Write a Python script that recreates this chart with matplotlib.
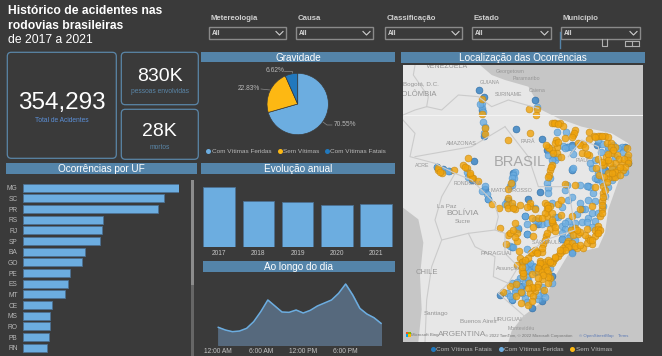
#!/usr/bin/env python3
# -*- coding: utf-8 -*-

import matplotlib
matplotlib.use('Agg')
import matplotlib.pyplot as plt
from matplotlib.patches import FancyBboxPatch, Polygon, Rectangle

plt.rcParams['font.family'] = ['Liberation Sans', 'DejaVu Sans']

W, H = 662, 356
BG = '#3a3a3a'
HEADER = '#5484a9'
BLUE = '#6cade0'
BAR_EDGE = '#4c7091'
ORANGE = '#fdb813'
DARK_BLUE = '#2178bd'
CARD_EDGE = '#5a86a8'

# data
ufs = ['MG', 'SC', 'PR', 'RS', 'RJ', 'SP', 'BA', 'GO', 'PE', 'ES', 'MT', 'CE', 'MS', 'RO', 'PB', 'RN']
uf_values = [46.7, 42.2, 40.4, 23.9, 23.7, 23.0, 18.4, 17.5, 13.9, 13.4, 12.5, 8.5, 8.0, 7.9, 7.8, 7.0]

years = ['2017', '2018', '2019', '2020', '2021']
year_values = [89.7, 69.2, 67.1, 63.6, 64.6]

hours = list(range(24))
hour_values = [53, 45, 40, 42, 50, 70, 100, 135, 117, 99, 98, 105, 96, 104, 117, 126, 135, 155, 183, 150,
               110, 93, 82, 65]
hour_ticks = [0, 6, 12, 18]
hour_labels = ['12:00 AM', '6:00 AM', '12:00 PM', '6:00 PM']

severity_values = [70.55, 22.83, 6.62]
severity_names = ['Com Vítimas Feridas', 'Sem Vítimas', 'Com Vítimas Fatais']

slicers = ['Metereologia', 'Causa', 'Classificação', 'Estado', 'Município']

# map points, in units of a third of a pixel
fatal_pts = [(252, 270), (268, 292), (262, 330), (268, 408), (420, 300), (362, 388), (442, 417), (455, 450),
             (515, 440), (530, 435), (605, 435), (630, 510), (700, 490), (237, 482), (125, 500), (143, 507),
             (162, 513), (355, 520), (530, 510), (690, 440), (650, 530), (435, 575), (270, 566), (232, 540),
             (280, 598), (400, 596), (340, 600), (390, 648), (370, 686), (395, 703), (350, 740), (500, 718),
             (382, 786), (405, 798), (380, 858), (350, 900), (440, 903), (410, 923), (315, 886), (470, 828),
             (580, 558), (560, 628), (430, 673), (530, 756), (605, 538)]
injured_pts = [(262, 325), (265, 335), (262, 310), (255, 312), (265, 365), (270, 380), (268, 400), (487, 397),
               (512, 395), (425, 320), (535, 462), (530, 508), (533, 505), (620, 433), (610, 420), (640, 450),
               (618, 455), (680, 440), (660, 470), (590, 505), (610, 520), (655, 500), (665, 525), (520, 440),
               (505, 438), (475, 470), (480, 480), (360, 515), (355, 525), (358, 535), (465, 535), (125, 500),
               (145, 510), (160, 512), (215, 515), (220, 530), (350, 533), (345, 558), (335, 603), (330, 613),
               (350, 618), (275, 583), (280, 598), (260, 573), (270, 558), (457, 548), (458, 563), (458, 578),
               (510, 570), (555, 556), (585, 560), (610, 538), (600, 603), (570, 626), (545, 643), (520, 663),
               (500, 678), (510, 688), (440, 673), (395, 671), (395, 703), (370, 683), (345, 738), (355, 740),
               (397, 748), (400, 793), (415, 798), (395, 813), (375, 833), (360, 868), (350, 898), (390, 893),
               (430, 898), (445, 878), (470, 848), (465, 803), (525, 708), (500, 718), (540, 668), (600, 663),
               (580, 653), (625, 618), (630, 588), (530, 758), (430, 663), (390, 648), (420, 623),
               (350, 850), (365, 845), (375, 860), (390, 850), (400, 840), (395, 830), (420, 815), (380, 880),
               (395, 905), (430, 885), (440, 860), (450, 890), (335, 880), (345, 888), (360, 880), (405, 790),
               (400, 810), (390, 800), (420, 800), (445, 795), (490, 650), (510, 670), (530, 680), (560, 665),
               (590, 680), (575, 665), (500, 700), (520, 715), (540, 720), (480, 650), (455, 670), (420, 660),
               (470, 610), (500, 620), (520, 600), (530, 590), (555, 610), (580, 600), (595, 580), (590, 640),
               (610, 640), (515, 555), (575, 558), (620, 545), (640, 560), (650, 540), (600, 535), (655, 435),
               (670, 445), (685, 455), (695, 470), (690, 515), (640, 440), (650, 515), (620, 510), (600, 480),
               (585, 490), (530, 440), (510, 445), (490, 470), (470, 480), (460, 465), (350, 545), (352, 555)]
no_victim_pts = [(262, 342), (260, 296), (270, 385), (270, 403), (403, 328), (425, 328), (423, 344), (340, 420),
                 (406, 399), (470, 368), (480, 368), (495, 368), (505, 378), (540, 390), (535, 405), (583, 395),
                 (598, 408), (615, 408), (630, 408), (640, 412), (510, 415), (483, 420), (485, 440), (458, 440),
                 (470, 450), (487, 458), (498, 472), (565, 432), (550, 428), (582, 418), (560, 460), (582, 464),
                 (608, 478), (603, 505), (635, 430), (648, 430), (660, 440), (695, 445), (650, 460), (665, 465),
                 (700, 465), (632, 470), (630, 490), (650, 505), (680, 490), (700, 480), (670, 510), (685, 510),
                 (655, 530), (625, 495), (470, 495), (465, 510), (462, 525), (220, 475), (205, 495), (215, 505),
                 (225, 525), (235, 535), (130, 510), (140, 520), (178, 510),
                 (348, 548), (340, 568), (338, 593), (336, 616), (360, 626), (313, 624), (290, 613), (250, 543),
                 (232, 533), (375, 616), (405, 618), (420, 628), (450, 608), (455, 628), (465, 618), (490, 613),
                 (498, 600), (510, 553), (540, 556), (600, 560), (625, 558), (640, 533), (660, 531), (625, 578),
                 (622, 603), (620, 628), (615, 648), (610, 678), (605, 698), (590, 618), (555, 628), (530, 648),
                 (497, 646), (455, 648), (430, 655), (410, 655), (475, 673), (465, 688), (480, 693), (415, 680),
                 (360, 668), (315, 683), (340, 706), (365, 700), (365, 723), (332, 731), (413, 708), (453, 708),
                 (445, 733), (440, 756), (425, 756), (408, 758), (398, 773), (372, 753), (375, 773), (382, 786),
                 (365, 796), (540, 683), (575, 688), (528, 691), (550, 703), (580, 713), (600, 708), (520, 723),
                 (510, 738), (500, 753), (525, 738), (545, 743), (565, 743), (590, 733), (490, 768), (475, 783),
                 (455, 793), (435, 783), (432, 798), (445, 803), (470, 790), (380, 813), (385, 828), (410, 823),
                 (430, 813), (460, 818), (465, 833), (460, 850), (440, 838), (428, 853), (402, 848), (362, 851),
                 (345, 858), (378, 876), (420, 873), (405, 878), (415, 888), (447, 870), (363, 888), (325, 876),
                 (378, 908), (400, 916), (410, 903),
                 (610, 408), (622, 408), (600, 412), (648, 440), (655, 450), (640, 462), (672, 478), (688, 478),
                 (698, 490), (690, 500), (660, 490), (645, 490), (638, 480), (620, 485), (675, 500), (660, 515),
                 (640, 520), (675, 525), (650, 520), (628, 530), (612, 525), (480, 430), (490, 425), (462, 445),
                 (452, 435), (475, 460), (478, 370), (488, 372), (538, 398), (530, 412), (555, 435), (570, 440),
                 (575, 462), (458, 530), (468, 500), (225, 520), (210, 500), (128, 505), (135, 515),
                 (440, 793), (450, 785), (460, 780), (480, 775), (495, 760), (505, 745), (515, 730), (530, 730),
                 (540, 738), (555, 735), (575, 730), (585, 720), (570, 705), (555, 695), (545, 690), (535, 705),
                 (520, 740), (510, 750), (495, 750), (480, 770), (465, 785), (450, 800), (435, 790), (430, 805),
                 (440, 815), (455, 810), (460, 830), (445, 825), (430, 835), (415, 865), (425, 860), (410, 860),
                 (400, 865), (385, 820), (380, 800), (390, 780), (410, 755), (420, 750), (440, 745), (450, 720),
                 (455, 700), (425, 758), (450, 640), (455, 615), (460, 625), (470, 640), (440, 655), (470, 665),
                 (480, 680), (470, 660), (600, 690), (610, 688), (615, 690), (622, 640), (620, 615), (625, 590),
                 (630, 570), (635, 545), (610, 700), (590, 720), (405, 610), (395, 620), (340, 625), (350, 610),
                 (355, 625), (345, 700), (360, 710), (355, 690)]

map_labels = [('VENEZUELA', 155, 200, 5), ('Bogotá, D.C.', 78, 253, 4.5), ('COLÔMBIA', 65, 285, 5.5),
              ('GUIANA', 285, 246, 3.8), ('SURINAME', 342, 285, 3.8), ('Georgetown', 345, 216, 3.8),
              ('Paramaribo', 393, 234, 3.8), ('Caiena', 426, 273, 3.8), ('AMAZONAS', 198, 431, 4),
              ('PARÁ', 398, 425, 4), ('ACRE', 82, 497, 3.8), ('PIAUÍ', 563, 480, 3.8),
              ('RONDÔNIA', 218, 551, 3.8), ('MATO GROSSO', 350, 572, 4), ('BOLÍVIA', 204, 640, 6),
              ('La Paz', 155, 618, 4.5), ('Sucre', 203, 663, 4.5), ('PARAGUAI', 303, 761, 4.5),
              ('Assunção', 340, 806, 4), ('CHILE', 95, 818, 5.5), ('Santiago', 123, 939, 4.5),
              ('Buenos Aires', 250, 963, 4.5), ('URUGUAI', 340, 959, 4.5), ('Montevidéu', 378, 986, 3.8),
              ('ARGENTINA', 203, 1003, 6)]
borders = [[(24, 345), (60, 330), (95, 320), (100, 290), (55, 225), (60, 195)],
           [(95, 320), (140, 330), (190, 285), (250, 290), (290, 320), (340, 300), (430, 325)],
           [(24, 360), (60, 400), (45, 470), (120, 490), (180, 520), (230, 540), (300, 610), (310, 650),
            (300, 690), (330, 700), (330, 760), (370, 800), (340, 850), (310, 880), (390, 950)],
           [(180, 520), (140, 590), (120, 660), (140, 720), (220, 700), (300, 690)],
           [(140, 720), (110, 800), (95, 900), (90, 1026)],
           [(220, 700), (240, 740), (300, 770), (295, 830), (340, 850)],
           [(330, 380), (400, 470), (430, 560), (520, 560), (540, 690), (450, 720), (400, 760)],
           [(520, 470), (560, 420), (610, 440), (620, 520), (640, 600)],
           [(60, 470), (230, 440), (330, 380)]]
sea_north = [(255, 195), (290, 225), (330, 240), (400, 260), (440, 330), (490, 355), (560, 380), (650, 400),
             (700, 430), (712, 480), (700, 510), (672, 538), (640, 628), (630, 698), (610, 743), (520, 763),
             (475, 838), (450, 898), (385, 948), (350, 993), (340, 1026), (744, 1026), (744, 195)]
sea_west = [(24, 623), (70, 658), (85, 728), (75, 828), (80, 928), (70, 1026), (24, 1026)]


def px_axes(fig, left, top, right, bottom):
    ax = fig.add_axes([left / W, 1 - bottom / H, (right - left) / W, (bottom - top) / H])
    ax.set_facecolor('none')
    for s in ax.spines.values():
        s.set_visible(False)
    return ax


def header(ax, x0, x1, y0, y1, label):
    ax.add_patch(Rectangle((x0, y0), x1 - x0, y1 - y0, fc=HEADER, ec='none'))
    ax.text((x0 + x1) / 2, (y0 + y1) / 2 + .3, label, color='white', fontsize=7.2, ha='center', va='center')


def card(ax, x0, y0, x1, y1, value, size, label, vy, ly, lcolor):
    ax.add_patch(FancyBboxPatch((x0 + 4, y0 + 4), x1 - x0 - 8, y1 - y0 - 8, boxstyle='round,pad=4,rounding_size=4',
                                fc='none', ec=CARD_EDGE, lw=.9))
    ax.text((x0 + x1) / 2, vy, value, color='white', fontsize=size, ha='center', va='center')
    ax.text((x0 + x1) / 2, ly, label, color=lcolor, fontsize=4.8, ha='center', va='center')


def legend_row(ax, items, y):
    for x, color, label in items:
        ax.scatter([x], [y], s=13, color=color, linewidths=0)
        ax.text(x + 3.5, y + .2, label, color='#b8b8b8', fontsize=4.6, va='center')


fig = plt.figure(figsize=(W / 100, H / 100), dpi=100, facecolor=BG)
base = px_axes(fig, 0, 0, W, H)
base.set_xlim(0, W)
base.set_ylim(H, 0)
base.axis('off')

# title
for y, line in zip([11.5, 26, 40], ['Histórico de acidentes nas', 'rodovias brasileiras', 'de 2017 a 2021']):
    base.text(8.5, y, line, color='white', fontsize=8.7, weight='bold' if y < 30 else 'normal', va='center')

# slicers
slicer_boxes = [(209, 286), (296, 373), (385, 462), (472, 551), (561, 640)]
for (x0, x1), label in zip(slicer_boxes, slicers):
    base.text(x0 + 1.5, 19, label, color='#cfcfcf', fontsize=5.6, weight='bold', va='center')
    base.add_patch(Rectangle((x0, 27), x1 - x0, 12.3, fc='none', ec='#8a8a8a', lw=1))
    base.text(x0 + 3, 33.3, 'All', color='#d8d8d8', fontsize=4.8, weight='bold', va='center')
    base.plot([x1 - 10, x1 - 6.5, x1 - 3], [31.5, 35, 31.5], color='#d0d0d0', lw=.8)
base.plot([559.7, 559.7], [32, 48], color=HEADER, lw=1)
base.plot([602, 602, 607, 607], [39, 46, 46, 39], color='#b0b0b0', lw=.8)
base.plot([625, 625, 639, 639], [46, 41, 41, 46], color='#b0b0b0', lw=.8)
base.plot([625, 639], [46, 46], color='#b0b0b0', lw=.8)
base.plot([632, 632], [41, 46], color='#b0b0b0', lw=.8)

# cards
card(base, 7.3, 52.3, 116.3, 158.3, '354,293', 17.5, 'Total de Acidentes', 103.5, 121, '#5b8fd6')
card(base, 121.3, 52.3, 198.3, 104.7, '830K', 14, 'pessoas envolvidas', 76.5, 91.5, CARD_EDGE)
card(base, 121.3, 109.3, 198.3, 159.3, '28K', 14, 'mortos', 131.5, 147.5, CARD_EDGE)

# headers
header(base, 201, 395, 52.3, 62.3, 'Gravidade')
header(base, 6, 196.7, 163, 173.5, 'Ocorrências por UF')
header(base, 201, 395, 163, 173.5, 'Evolução anual')
header(base, 203, 395, 261.3, 271.7, 'Ao longo do dia')
header(base, 401, 645, 52, 62.5, 'Localização das Ocorrências')

# pie
ax_pie = px_axes(fig, 266.7, 73, 328.7, 135)
ax_pie.pie(severity_values, colors=[BLUE, ORANGE, DARK_BLUE], startangle=90, counterclock=False, radius=1,
           wedgeprops={'linewidth': .5, 'edgecolor': BG})
ax_pie.set_xlim(-1.01, 1.01)
ax_pie.set_ylim(-1.01, 1.01)
for label, tx, ty, line in [('6.62%', 266, 71, [(284, 71), (292, 71), (292, 76)]),
                            ('22.83%', 238, 89, [(261, 89), (270, 90)]),
                            ('70.55%', 334, 125, [(323, 122), (327, 125), (332, 125)])]:
    base.text(tx, ty, label, color='#b8b8b8', fontsize=4.8, va='center')
    base.plot([p[0] for p in line], [p[1] for p in line], color='#8a8a8a', lw=.5)
legend_row(base, [(208, BLUE, severity_names[0]), (279.5, ORANGE, severity_names[1]), (327, DARK_BLUE, severity_names[2])], 151)

# bars per state
ax_uf = px_axes(fig, 23.3, 182.5, 179, 353)
ax_uf.barh(range(len(ufs)), uf_values, height=.75, color=BLUE, edgecolor=BAR_EDGE, linewidth=.6)
ax_uf.set_xlim(0, 46.7)
ax_uf.set_ylim(15.5, -.5)
ax_uf.xaxis.set_visible(False)
ax_uf.set_yticks(range(len(ufs)), ufs)
ax_uf.tick_params(axis='y', length=0, pad=4, labelsize=4.8, labelcolor='#b8b8b8')
base.add_patch(Rectangle((190.7, 180), 3.6, 176, fc='#666666', ec='none'))
base.add_patch(Rectangle((190.7, 180), 3.6, 105, fc='#8c8c8c', ec='none'))

# bars per year
ax_year = px_axes(fig, 199.5, 187.3, 395.8, 247)
ax_year.bar(years, year_values, width=.805, color=BLUE, edgecolor=BAR_EDGE, linewidth=.6)
ax_year.set_xlim(-.5, 4.5)
ax_year.set_ylim(0, 89.7)
ax_year.yaxis.set_visible(False)
ax_year.tick_params(axis='x', length=0, pad=2.5, labelsize=4.8, labelcolor='#c4c4c4')

# hour of the day
ax_hour = px_axes(fig, 218.3, 284, 381, 345)
ax_hour.fill_between(hours, hour_values, color='#56697d')
ax_hour.plot(hours, hour_values, color=BLUE, lw=1.1, clip_on=False)
ax_hour.set_xlim(0, 23)
ax_hour.set_ylim(0, 183)
ax_hour.yaxis.set_visible(False)
ax_hour.set_xticks(hour_ticks, hour_labels)
ax_hour.tick_params(axis='x', length=0, pad=2, labelsize=4.8, labelcolor='#c4c4c4')

# map
ax_map = px_axes(fig, 403, 65, 643, 342)
ax_map.set_facecolor('#e7e7e7')
ax_map.set_xlim(24, 744)
ax_map.set_ylim(1026, 195)
ax_map.set_xticks([])
ax_map.set_yticks([])
ax_map.add_patch(Polygon(sea_north, fc='#c6c6c6', ec='none'))
ax_map.add_patch(Polygon(sea_west, fc='#c6c6c6', ec='none'))
ax_map.plot([24, 744], [345, 345], color='#f4f4f4', lw=.7)
for line in borders:
    ax_map.plot([p[0] for p in line], [p[1] for p in line], color='#cbcbcb', lw=.8)
for label, x, y, size in map_labels:
    ax_map.text(x, y, label, color='#969696', fontsize=size, ha='center', va='center', clip_on=True)
ax_map.text(375, 485, 'BRASIL', color='#a8a8a8', fontsize=10.5, ha='center', va='center')
ax_map.text(455, 728, 'SÃO PAULO', color='#9a9a9a', fontsize=3.8, ha='center', va='center')

for pts, color, edge, alpha in [(fatal_pts, '#3c85c4', '#2a6aa5', .85), (injured_pts, '#6cade0', '#4d93cc', .8),
                                (no_victim_pts, '#f0a30a', '#c98a10', .8)]:
    ax_map.scatter([p[0] for p in pts], [p[1] for p in pts], s=24, color=color, edgecolors=edge, linewidths=.5,
                   alpha=alpha)

# map footer
for (x, y), c in zip([(33, 996), (40, 996), (33, 1003), (40, 1003)], ['#f25022', '#7fba00', '#00a4ef', '#ffb900']):
    ax_map.add_patch(Rectangle((x, y), 6.5, 6.5, fc=c, ec='none'))
ax_map.text(90, 1004, 'Microsoft Bing', color='#777777', fontsize=3.2, ha='center', va='center')
ax_map.text(402, 1008, '© 2022 TomTom, © 2022 Microsoft Corporation', color='#777777', fontsize=3.1, ha='center', va='center')
ax_map.text(605, 1008, '© OpenStreetMap', color='#5a78b5', fontsize=3.1, ha='center', va='center')
ax_map.text(687, 1008, 'Terms', color='#5a78b5', fontsize=3.1, ha='center', va='center')

legend_row(base, [(433, DARK_BLUE, 'Com Vítimas Fatais'), (500.5, BLUE, 'Com Vítimas Feridas'), (572, ORANGE, 'Sem Vítimas')], 349)

fig.savefig('out.png', dpi=100, facecolor=BG)
